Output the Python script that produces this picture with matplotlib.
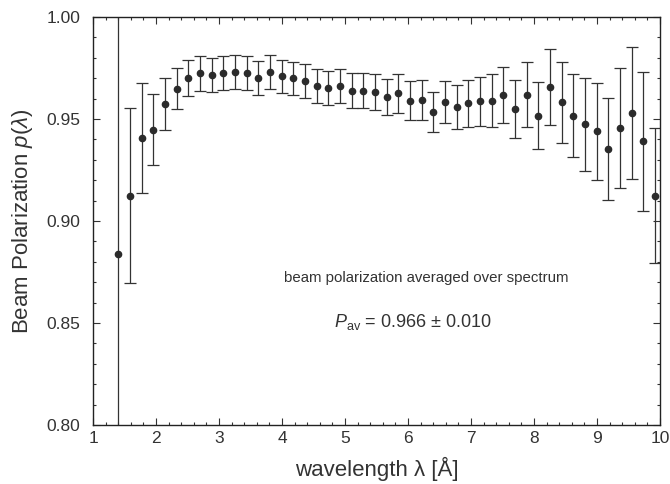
import numpy as np
import matplotlib
matplotlib.use('Agg')
import matplotlib.pyplot as plt
from matplotlib.ticker import MultipleLocator

plt.rcParams['font.family'] = ['Liberation Sans', 'DejaVu Sans']
plt.rcParams['mathtext.fontset'] = 'custom'
plt.rcParams['mathtext.rm'] = 'Liberation Sans'
plt.rcParams['mathtext.it'] = 'Liberation Sans:italic'

# wavelength bins [A]
wavelength = [1.400, 1.585, 1.770, 1.956, 2.141, 2.326, 2.511, 2.696, 2.882, 3.067,
              3.252, 3.437, 3.622, 3.808, 3.993, 4.178, 4.363, 4.548, 4.734, 4.919,
              5.104, 5.289, 5.474, 5.660, 5.845, 6.030, 6.215, 6.400, 6.586, 6.771,
              6.956, 7.141, 7.326, 7.512, 7.697, 7.882, 8.067, 8.252, 8.438, 8.623,
              8.808, 8.993, 9.178, 9.364, 9.549, 9.734, 9.919]

polarization = [0.8837, 0.9124, 0.9407, 0.9448, 0.9575, 0.9649, 0.9701, 0.9725, 0.9716, 0.9725,
                0.9730, 0.9725, 0.9702, 0.9730, 0.9709, 0.9699, 0.9688, 0.9660, 0.9650, 0.9663,
                0.9639, 0.9639, 0.9631, 0.9608, 0.9626, 0.9590, 0.9591, 0.9534, 0.9581, 0.9557,
                0.9578, 0.9586, 0.9590, 0.9619, 0.9549, 0.9619, 0.9516, 0.9657, 0.9581, 0.9516,
                0.9474, 0.9439, 0.9354, 0.9456, 0.9531, 0.9390, 0.9124]

error = [0.1300, 0.0430, 0.0270, 0.0174, 0.0128, 0.0102, 0.0090, 0.0086, 0.0082, 0.0082,
         0.0083, 0.0082, 0.0082, 0.0083, 0.0081, 0.0082, 0.0083, 0.0083, 0.0083, 0.0084,
         0.0087, 0.0087, 0.0089, 0.0090, 0.0095, 0.0095, 0.0098, 0.0100, 0.0103, 0.0108,
         0.0115, 0.0120, 0.0130, 0.0137, 0.0141, 0.0158, 0.0163, 0.0186, 0.0197, 0.0203,
         0.0227, 0.0236, 0.0249, 0.0293, 0.0323, 0.0340, 0.0330]

text_color = '#333333'

fig = plt.figure(figsize=(6.7, 4.84), dpi=100)
ax = fig.add_axes([93/670, 59/484, 567/670, 408/484])

ax.errorbar(wavelength, polarization, yerr=error, fmt='o', color='#2b2b2b',
            ecolor='#333333', elinewidth=0.9, capsize=4.3, capthick=0.9,
            markersize=4.5)

ax.set_xlim(1, 10)
ax.set_ylim(0.80, 1.00)
ax.xaxis.set_major_locator(MultipleLocator(1))
ax.xaxis.set_minor_locator(MultipleLocator(0.2))
ax.yaxis.set_major_locator(MultipleLocator(0.05))
ax.yaxis.set_minor_locator(MultipleLocator(0.01))
ax.yaxis.set_major_formatter(plt.FormatStrFormatter('%.2f'))

ax.tick_params(which='both', direction='in', top=True, right=True,
               colors=text_color, labelsize=12.5, width=0.8)
ax.tick_params(which='major', length=5)
ax.tick_params(which='minor', length=2.5)
ax.tick_params(axis='x', which='major', pad=4)
ax.tick_params(axis='y', which='major', pad=9)
for sp in ax.spines.values():
    sp.set_color('#222222')
    sp.set_linewidth(1.0)

ax.set_xlabel('wavelength λ [Å]', fontsize=16, color=text_color, labelpad=8)
ax.set_ylabel(r'Beam Polarization $p(\lambda)$', fontsize=16, color=text_color, labelpad=8)

ax.text(6.29, 0.872, 'beam polarization averaged over spectrum', ha='center', va='center',
        fontsize=10.8, color=text_color)
ax.text(6.08, 0.8505, r'$P_{\mathrm{av}}$ = 0.966 ± 0.010', ha='center', va='center',
        fontsize=13, color=text_color)

fig.savefig('out.png', dpi=100)
